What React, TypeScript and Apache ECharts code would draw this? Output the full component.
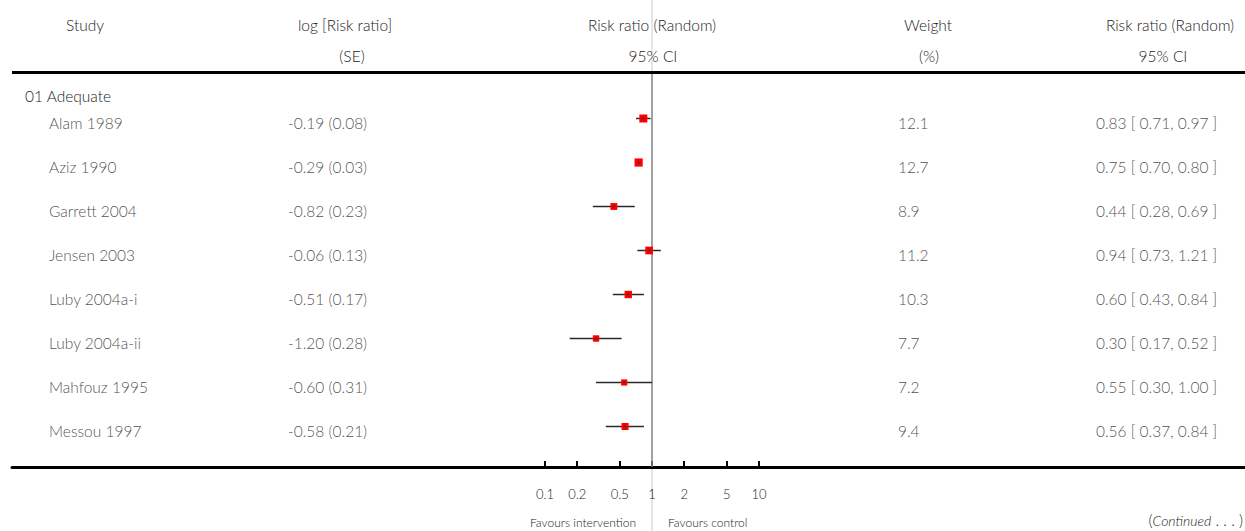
import React, { useEffect, useRef } from "react";
import * as echarts from "echarts";

const studies = [
  "Alam 1989",
  "Aziz 1990",
  "Garrett 2004",
  "Jensen 2003",
  "Luby 2004a-i",
  "Luby 2004a-ii",
  "Mahfouz 1995",
  "Messou 1997",
];
const logRR = [-0.19, -0.29, -0.82, -0.06, -0.51, -1.2, -0.6, -0.58];
const seLog = [0.08, 0.03, 0.23, 0.13, 0.17, 0.28, 0.31, 0.21];
const weights = [12.1, 12.7, 8.9, 11.2, 10.3, 7.7, 7.2, 9.4];
const rr = [0.83, 0.75, 0.44, 0.94, 0.6, 0.3, 0.55, 0.56];
const ciLow = [0.71, 0.7, 0.28, 0.73, 0.43, 0.17, 0.3, 0.37];
const ciHigh = [0.97, 0.8, 0.69, 1.21, 0.84, 0.52, 1.0, 0.84];
const tickValues = [0.1, 0.2, 0.5, 1, 2, 5, 10];

const FONT = "Lato";
const TXT = "#222";
const FS = 15.5;
const FW = 300;

const fmt2 = (v: number) => v.toFixed(2);

export default function App() {
  const ref = useRef<HTMLDivElement>(null);
  useEffect(() => {
    if (!ref.current) return;
    const chart = echarts.init(ref.current, undefined, { renderer: "svg" });

    const gridLeft = 12;
    const W = 1245;
    const H = 531;
    const axisY = 467;
    const center = 652;
    const pxPerDecade = 107;
    const xMin = -(center - gridLeft) / pxPerDecade;
    const xMax = (W - center) / pxPerDecade;
    const rowPx = 44;
    const firstRow = 118.5;
    const yMin = -firstRow / rowPx;
    const yMax = yMin + axisY / rowPx;

    const forestData = studies.map((_, i) => [
      Math.log10(rr[i]),
      i,
      Math.log10(ciLow[i]),
      Math.log10(ciHigh[i]),
      weights[i],
    ]);

    const textCol = (name: string, colX: number, texts: string[]) => ({
      type: "scatter",
      name,
      xAxisIndex: 1,
      yAxisIndex: 0,
      symbolSize: 0,
      silent: true,
      data: texts.map((t, i) => ({ value: [colX, i], label: { formatter: t } })),
      label: {
        show: true,
        position: "right",
        distance: 0,
        offset: [0, 4],
        color: TXT,
        fontFamily: FONT,
        fontWeight: FW,
        fontSize: FS,
      },
    });

    const option: any = {
      animation: false,
      grid: { left: gridLeft, right: 0, top: 0, bottom: H - axisY },
      xAxis: [
        {
          type: "value",
          min: xMin,
          max: xMax,
          splitLine: { show: false },
          axisLine: { show: true, onZero: false, lineStyle: { color: "#000", width: 3 } },
          axisTick: {
            show: true,
            inside: true,
            length: 6,
            lineStyle: { color: "#000", width: 2 },
            customValues: tickValues.map((v) => Math.log10(v)),
          },
          axisLabel: {
            show: true,
            margin: 20,
            color: TXT,
            fontFamily: FONT,
            fontWeight: FW,
            fontSize: 13,
            customValues: tickValues.map((v) => Math.log10(v)),
            formatter: (v: number) => String(Math.round(Math.pow(10, v) * 10) / 10),
          },
        },
        { type: "value", min: gridLeft, max: W, show: false },
      ],
      yAxis: [{ type: "value", inverse: true, min: yMin, max: yMax, show: false }],
      series: [
        {
          type: "custom",
          name: "forest",
          xAxisIndex: 0,
          yAxisIndex: 0,
          silent: true,
          data: forestData,
          renderItem: (params: any, api: any) => {
            const p = api.coord([api.value(0), api.value(1)]);
            const lo = api.coord([api.value(2), api.value(1)]);
            const hi = api.coord([api.value(3), api.value(1)]);
            const s = 2.3 * Math.sqrt(api.value(4));
            return {
              type: "group",
              children: [
                {
                  type: "line",
                  shape: { x1: lo[0], y1: lo[1], x2: hi[0], y2: hi[1] },
                  style: { stroke: "#2a2a2a", lineWidth: 1.5 },
                },
                {
                  type: "rect",
                  shape: { x: p[0] - s / 2, y: p[1] - s / 2, width: s, height: s },
                  style: { fill: "#ff0000" },
                },
                {
                  type: "line",
                  shape: { x1: p[0] - 2, y1: p[1], x2: p[0] + 2, y2: p[1] },
                  style: { stroke: "#333", lineWidth: 0.6 },
                },
                {
                  type: "line",
                  shape: { x1: p[0], y1: p[1] - 2, x2: p[0], y2: p[1] + 2 },
                  style: { stroke: "#333", lineWidth: 0.6 },
                },
              ],
            };
          },
          z: 5,
        },
        textCol("study", 49, studies),
        textCol(
          "se",
          288,
          logRR.map((v, i) => `${fmt2(v)} (${fmt2(seLog[i])})`)
        ),
        textCol("weight", 898, weights.map((w) => w.toFixed(1))),
        textCol(
          "ci",
          1096,
          rr.map((v, i) => `${fmt2(v)} [ ${fmt2(ciLow[i])}, ${fmt2(ciHigh[i])} ]`)
        ),
      ],
    };
    chart.setOption(option);

    const px0 = chart.convertToPixel({ xAxisIndex: 0 }, 0) as number;
    const hText = (text: string, x: number, y: number, align = "center", size = FS) => ({
      type: "text",
      x,
      y,
      silent: true,
      style: {
        text,
        fill: TXT,
        font: `${FW} ${size}px ${FONT}`,
        align,
        verticalAlign: "middle",
      },
    });
    chart.setOption({
      graphic: [
        {
          type: "line",
          silent: true,
          z: 0,
          shape: { x1: px0, y1: 0, x2: px0, y2: H },
          style: { stroke: "#dcdcdc", lineWidth: 1.5 },
        },
        {
          type: "line",
          silent: true,
          z: 1,
          shape: { x1: px0, y1: 72, x2: px0, y2: axisY },
          style: { stroke: "#8a8a8a", lineWidth: 1.5 },
        },
        {
          type: "line",
          silent: true,
          z: 2,
          shape: { x1: gridLeft, y1: 72.5, x2: W, y2: 72.5 },
          style: { stroke: "#000", lineWidth: 3 },
        },
        hText("Study", 85, 25),
        hText("log [Risk ratio]", 345, 25),
        hText("(SE)", 352, 56),
        hText("Risk ratio (Random)", 652, 25),
        hText("95% CI", 653, 56),
        hText("Weight", 928, 25),
        hText("(%)", 929, 56),
        hText("Risk ratio (Random)", 1170, 25),
        hText("95% CI", 1163, 56),
        hText("01 Adequate", 25, 96, "left"),
        hText("Favours intervention", 636, 522, "right", 12),
        hText("Favours control", 668, 522, "left", 12),
        {
          type: "text",
          x: 1243,
          y: 520,
          silent: true,
          style: {
            text: "({i|Continued} . . . )",
            fill: TXT,
            font: `${FW} ${FS}px ${FONT}`,
            align: "right",
            verticalAlign: "middle",
            rich: {
              i: {
                fontStyle: "italic",
                fontFamily: FONT,
                fontWeight: FW,
                fontSize: 14,
                fill: TXT,
              },
            },
          },
        },
      ],
    });

    return () => chart.dispose();
  }, []);
  return (
    <div
      ref={ref}
      style={{ position: "fixed", left: 0, top: 0, width: 1245, height: 531, background: "#fff" }}
    />
  );
}
